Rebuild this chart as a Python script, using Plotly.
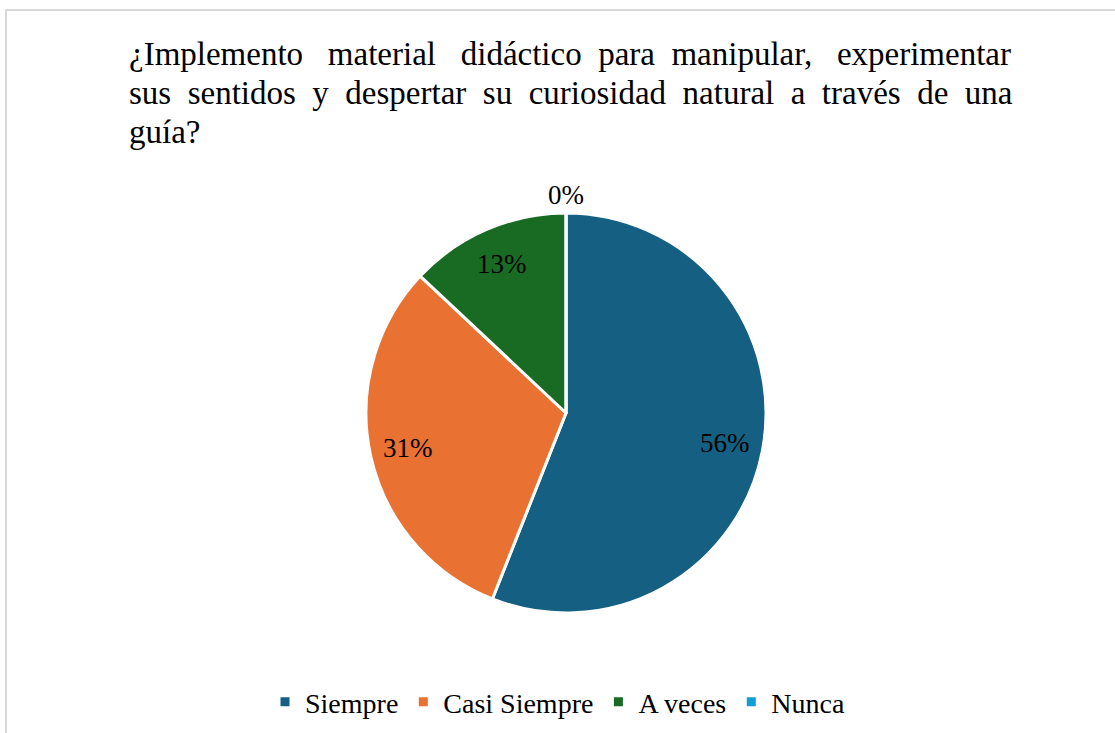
import math
import plotly.graph_objects as go

categories = ["Siempre", "Casi Siempre", "A veces", "Nunca"]
values = [56, 31, 13, 0]
colors = ["#156082", "#E97132", "#196B24", "#0F9ED5"]
title_lines = [
    "¿Implemento material didáctico para manipular, experimentar",
    "sus sentidos y despertar su curiosidad natural a través de una",
    "guía?",
]
# extra non-breaking spaces per word gap, to imitate the justified title
title_extra_spaces = [
    [2, 2, 1, 1, 2],
    [1, 1, 1, 1, 1, 1, 1, 1, 1, 1],
    [],
]

W, H = 1115, 733
cx, cy, R = 566, 413, 200
title_x, title_y0, title_step, title_size = 127, 54, 39, 33


def justify(line, extras):
    words = line.split(" ")
    out = words[0]
    for i, w in enumerate(words[1:]):
        n = extras[i] if i < len(extras) else 0
        out += " " + "\u00a0" * n + w
    return out


fig = go.Figure()
fig.add_trace(go.Pie(
    labels=categories,
    values=values,
    sort=False,
    direction="clockwise",
    rotation=0,
    marker=dict(colors=colors, line=dict(color="white", width=3)),
    textinfo="none",
    hoverinfo="label+percent",
    showlegend=True,
    domain=dict(x=[(cx - R) / W, (cx + R) / W], y=[1 - (cy + R) / H, 1 - (cy - R) / H]),
))

annotations = []
# title, one line per annotation (justified look)
for i, (line, extras) in enumerate(zip(title_lines, title_extra_spaces)):
    annotations.append(dict(
        x=title_x / W, y=1 - (title_y0 + i * title_step) / H,
        xref="paper", yref="paper", showarrow=False,
        xanchor="left", yanchor="middle",
        text=justify(line, extras),
        font=dict(family="Liberation Serif", size=title_size, color="black"),
    ))

# data labels placed from the cumulative share of each slice
total = sum(values)
cum = 0
for v in values:
    mid = (cum + v / 2) / total * 2 * math.pi
    cum += v
    r = 0.81 * R if v > 0 else 1.09 * R
    px = cx + r * math.sin(mid)
    py = cy - r * math.cos(mid)
    annotations.append(dict(
        x=px / W, y=1 - py / H, xref="paper", yref="paper",
        text=f"{round(v / total * 100)}%", showarrow=False,
        xanchor="center", yanchor="middle",
        font=dict(family="Liberation Serif", size=27, color="black"),
    ))

fig.update_layout(
    width=W, height=H,
    margin=dict(l=0, r=0, t=0, b=0),
    paper_bgcolor="white",
    plot_bgcolor="white",
    font=dict(family="Liberation Serif", color="black"),
    legend=dict(
        orientation="h",
        x=0.5, xanchor="center",
        y=1 - 702 / H, yanchor="middle",
        font=dict(family="Liberation Serif", size=28, color="black"),
        itemwidth=30,
        traceorder="normal",
    ),
    annotations=annotations,
    shapes=[dict(
        type="rect", xref="paper", yref="paper",
        x0=6 / W, x1=1.02, y0=-0.02, y1=1 - 10 / H,
        line=dict(color="#d9d9d9", width=2),
    )],
)

fig.write_html(
    "out.html",
    config={"displayModeBar": False},
    post_script="document.body.style.margin='0';",
)
